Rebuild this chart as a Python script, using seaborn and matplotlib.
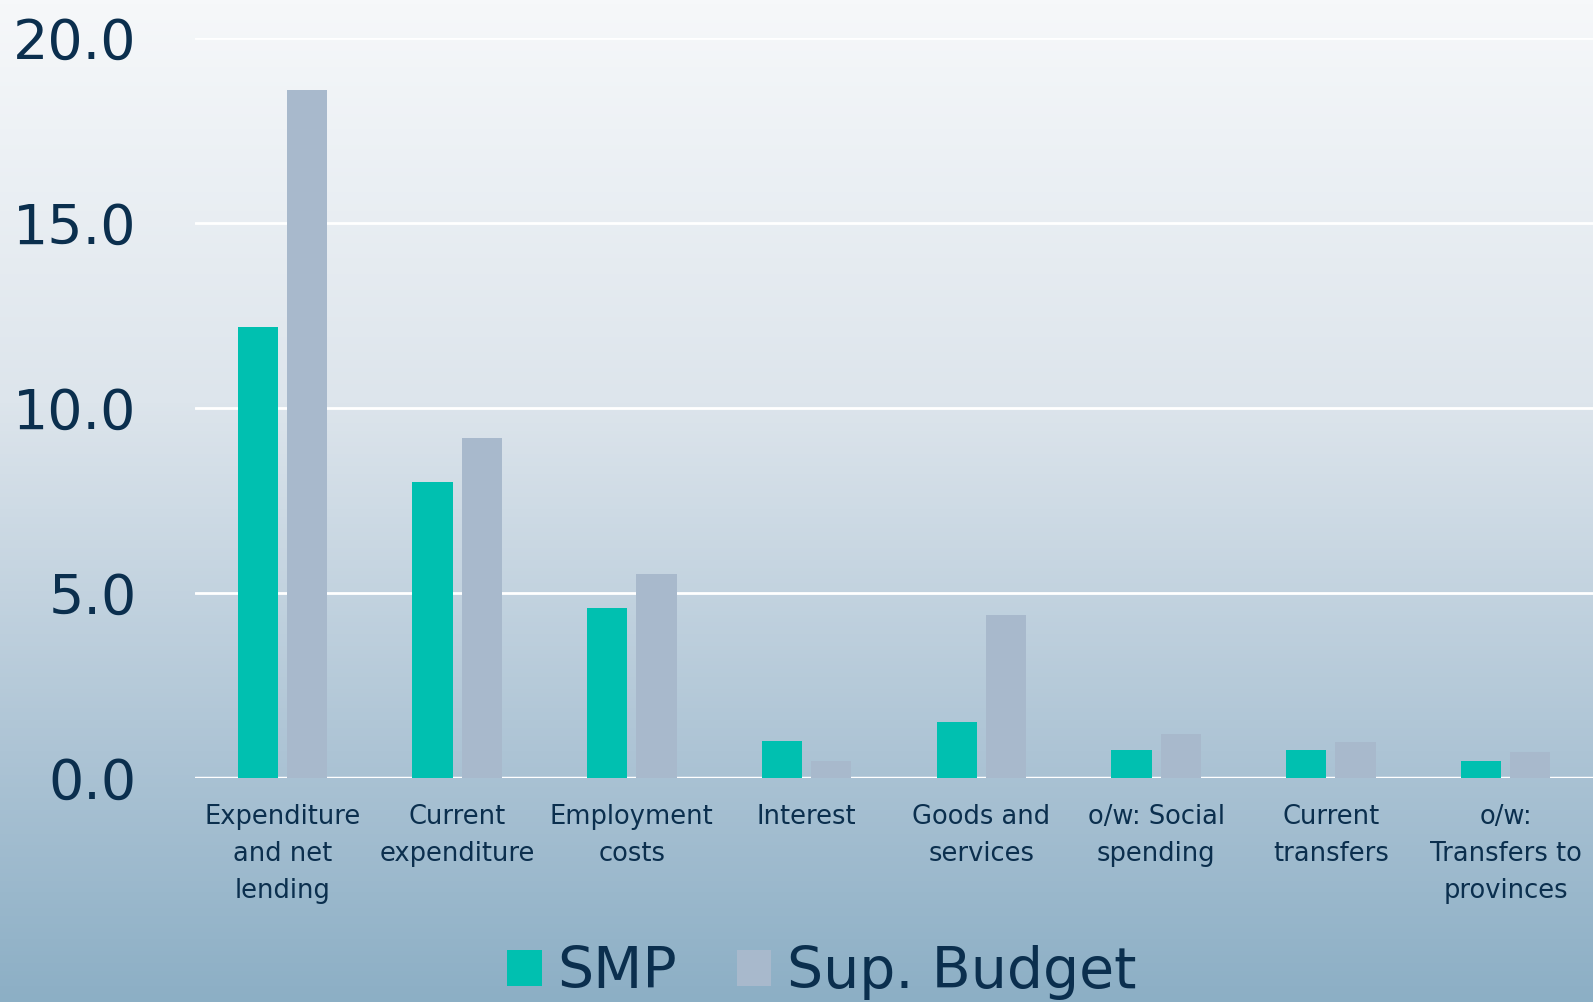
import matplotlib
matplotlib.use('Agg')
import matplotlib.pyplot as plt
import seaborn as sns
import pandas as pd
import numpy as np
from matplotlib.colors import LinearSegmentedColormap

# Datos del gráfico
categorias = ['Expenditure\nand net\nlending', 'Current\nexpenditure', 'Employment\ncosts',
              'Interest', 'Goods and\nservices', 'o/w: Social\nspending', 'Current\ntransfers',
              'o/w:\nTransfers to\nprovinces']
smp = [12.2, 8.0, 4.6, 1.0, 1.5, 0.75, 0.75, 0.45]
sup_budget = [18.6, 9.2, 5.5, 0.45, 4.4, 1.2, 0.97, 0.7]
series = ['SMP', 'Sup. Budget']
yticks = [0, 5, 10, 15, 20]

df = pd.DataFrame({
    'categoria': categorias * 2,
    'serie': [series[0]] * len(categorias) + [series[1]] * len(categorias),
    'valor': smp + sup_budget,
})

sns.set_theme(style='white')
plt.rcParams['font.family'] = ['DejaVu Sans']
navy = '#0B2F4E'
colores = {'SMP': '#00C0B0', 'Sup. Budget': '#A8B9CC'}

fig = plt.figure(figsize=(15.93, 10.02), dpi=100)

# Fondo degradado
bg = fig.add_axes([0, 0, 1, 1], zorder=0)
cmap = LinearSegmentedColormap.from_list('bg', [(0, '#F6F8FA'), (0.4, '#DDE5EC'),
                                                 (0.75, '#ADC4D5'), (1.0, '#8CAFC5')])
grad = np.linspace(0, 1, 256).reshape(-1, 1)
bg.imshow(grad, aspect='auto', cmap=cmap, extent=[0, 1, 0, 1], origin='upper')
bg.set_axis_off()

ax = fig.add_axes([0.1224, 0.2236, 0.8776, 0.7384], zorder=1)
ax.set_facecolor('none')

sns.barplot(data=df, x='categoria', y='valor', hue='serie', palette=colores,
            width=0.564, gap=0.18, ax=ax, linewidth=0, saturation=1, legend=True)

ax.set_ylim(0, 20)
ax.set_xlim(-0.5, 7.5)
ax.set_yticks(yticks)
ax.set_yticklabels([f'{v:.1f}' for v in yticks])
ax.yaxis.grid(True, color='white', linewidth=2)
ax.set_axisbelow(True)
for s in ax.spines.values():
    s.set_visible(False)
ax.axhline(0, color='white', linewidth=2.5, zorder=0.5)

ax.tick_params(axis='y', labelsize=40, labelcolor=navy, length=0, pad=42)
ax.tick_params(axis='x', labelsize=18.5, labelcolor=navy, length=0, pad=19)
for lbl in ax.get_xticklabels():
    lbl.set_linespacing(1.55)
    lbl.set_verticalalignment('top')
ax.set_xlabel('')
ax.set_ylabel('')

handles, labels = ax.get_legend_handles_labels()
ax.legend_.remove()
fig.legend(handles, labels, loc='center', bbox_to_anchor=(0.516, 0.029), ncol=2,
           frameon=False, fontsize=41, labelcolor=navy, handlelength=0.6,
           handleheight=0.6, handletextpad=0.28, columnspacing=1.05)

plt.savefig('out.png', dpi=100)
